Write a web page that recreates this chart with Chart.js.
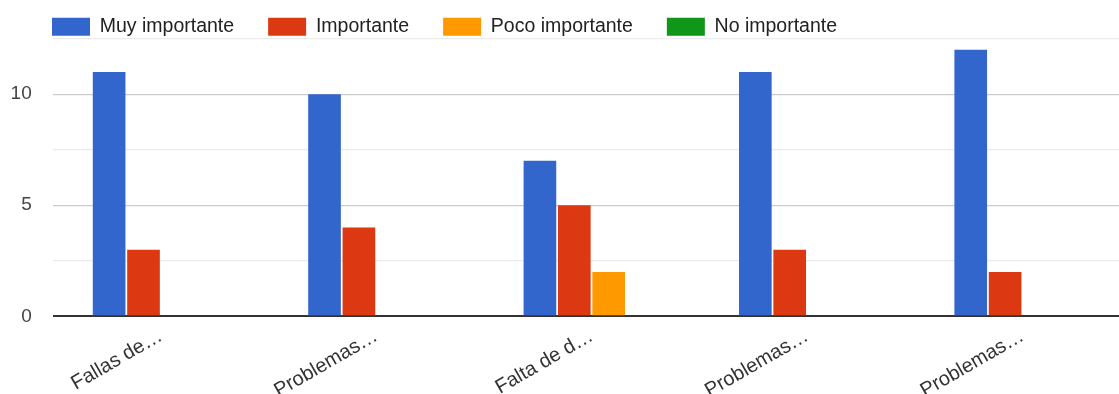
<!DOCTYPE html>
<html lang="es">
<head>
<meta charset="utf-8">
<title>Importancia de los problemas</title>
<script src="https://cdn.jsdelivr.net/npm/chart.js@4/dist/chart.umd.min.js"></script>
<style>
  html, body { margin: 0; padding: 0; background: #ffffff; overflow: hidden; }
  /* the plot runs slightly past the right edge of the window */
  #wrap { position: relative; width: 1130px; height: 394px; }
</style>
</head>
<body>
<div id="wrap"><canvas id="chart"></canvas></div>
<script>
// Categories (labels are shown truncated, as in the survey summary)
const categories = ['Fallas de…', 'Problemas…', 'Falta de d…', 'Problemas…', 'Problemas…'];

// Number of answers per rating
const muyImportante = [11, 10, 7, 11, 12];
const importante    = [3, 4, 5, 3, 2];
const pocoImportante = [0, 0, 2, 0, 0];
const noImportante  = [0, 0, 0, 0, 0];

const seriesNames = ['Muy importante', 'Importante', 'Poco importante', 'No importante'];
const seriesColors = ['#3366cc', '#dc3912', '#ff9900', '#109618'];

// Value axis: labelled every 5, lighter minor lines every 2.5
const yMax = 12.5;
const yStep = 2.5;
const yLabelEvery = 5;

const FONT = '"Liberation Sans", Arial, sans-serif';

// Keeps the legend row compact while its items stay widely spaced
const legendHeight = {
  id: 'legendHeight',
  beforeLayout(chart) {
    const legend = chart.legend;
    if (!legend || legend._compactFit) return;
    const fit = legend.fit;
    legend.fit = function () {
      fit.call(this);
      this.height = 55.7;
    };
    legend._compactFit = true;
  }
};

const seriesValues = [muyImportante, importante, pocoImportante, noImportante];

new Chart(document.getElementById('chart'), {
  type: 'bar',
  data: {
    labels: categories,
    datasets: seriesNames.map((name, i) => ({
      label: name,
      data: seriesValues[i],
      backgroundColor: seriesColors[i],
      borderWidth: 0,
      categoryPercentage: 0.6385,
      barPercentage: 0.95
    }))
  },
  plugins: [legendHeight],
  options: {
    responsive: true,
    maintainAspectRatio: false,
    animation: false,
    layout: { padding: { left: 18, top: -17, right: 0, bottom: 0 } },
    plugins: {
      tooltip: { enabled: false },
      legend: {
        position: 'top',
        align: 'start',
        labels: {
          boxWidth: 38,
          boxHeight: 18,
          padding: 34,
          color: '#222222',
          font: { family: FONT, size: 19.5 }
        }
      }
    },
    scales: {
      x: {
        grid: { display: false, drawTicks: false },
        border: { display: false },
        afterFit(scale) { scale.height = 77.7; },
        ticks: {
          minRotation: 30,
          maxRotation: 30,
          autoSkip: false,
          padding: 8,
          color: '#333333',
          font: { family: FONT, size: 20 }
        }
      },
      y: {
        min: 0,
        max: yMax,
        border: { display: false },
        afterFit(scale) { scale.width = 35; },
        grid: {
          drawTicks: false,
          color(ctx) {
            const v = ctx.tick.value;
            if (v === 0) return '#333333';
            return v % yLabelEvery === 0 ? '#cccccc' : '#ebebeb';
          },
          lineWidth(ctx) {
            return ctx.tick.value === 0 ? 2 : 1.3;
          }
        },
        ticks: {
          stepSize: yStep,
          mirror: true,
          crossAlign: 'far',
          padding: -42.4,
          color: '#444444',
          font: { family: FONT, size: 19 },
          callback(value) {
            return value % yLabelEvery === 0 ? value : '';
          }
        }
      }
    }
  }
});
</script>
</body>
</html>
